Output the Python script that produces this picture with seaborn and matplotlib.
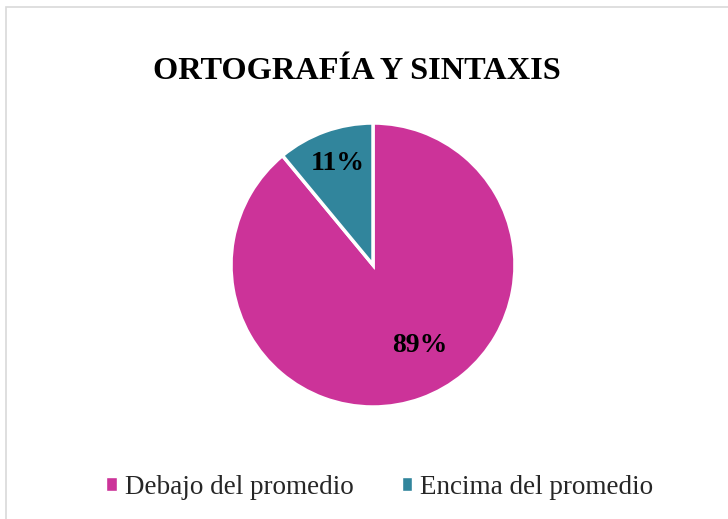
import matplotlib
matplotlib.use("Agg")
import matplotlib.pyplot as plt
import seaborn as sns
from matplotlib.patches import Rectangle

sns.set_theme(style="white")
plt.rcParams['font.family'] = ['Liberation Serif', 'DejaVu Serif']

title = "ORTOGRAFÍA Y SINTAXIS"
categories = ["Debajo del promedio", "Encima del promedio"]
values = [89, 11]
colors = ["#CC3399", "#31859C"]

W, H = 728, 519
fig = plt.figure(figsize=(W / 100, H / 100), dpi=100)
fig.patch.set_facecolor("white")

# chart border (extends past right/bottom edges as in reference)
fig.patches.append(Rectangle((6 / W, -0.5), 2, 1.5 - 7 / H, transform=fig.transFigure,
                             fill=False, edgecolor="#D9D9D9", linewidth=1.2))

cx, cy, r = 373, 265, 142
ax = fig.add_axes([(cx - r) / W, 1 - (cy + r) / H, 2 * r / W, 2 * r / H])
wedges, texts = ax.pie(values, colors=colors, startangle=90, counterclock=False,
                       wedgeprops=dict(edgecolor="white", linewidth=2.5))
ax.set_aspect("equal")
ax.set_xlim(-1, 1)
ax.set_ylim(-1, 1)
ax.axis("off")

def to_data(px, py):
    return ((px - cx) / r, (cy - py) / r)

labels_pos = [(420, 345), (338, 163)]
for v, (px, py) in zip(values, labels_pos):
    x, y = to_data(px, py)
    ax.text(x, y, f"{v}%", ha="center", va="center", fontsize=20,
            fontweight="bold", color="black")

fig.text(357 / W, 1 - 72 / H, title, ha="center", va="center",
         fontsize=23.3, fontweight="bold", color="black")

handles = [Rectangle((0, 0), 1, 1, facecolor=c) for c in colors]
fig.legend(handles, categories, loc="center", bbox_to_anchor=(380 / W, 1 - 487 / H),
           ncol=2, frameon=False, fontsize=19.5, handlelength=0.4, handleheight=0.4,
           handletextpad=0.3, columnspacing=1.75)

fig.savefig("out.png", dpi=100)
